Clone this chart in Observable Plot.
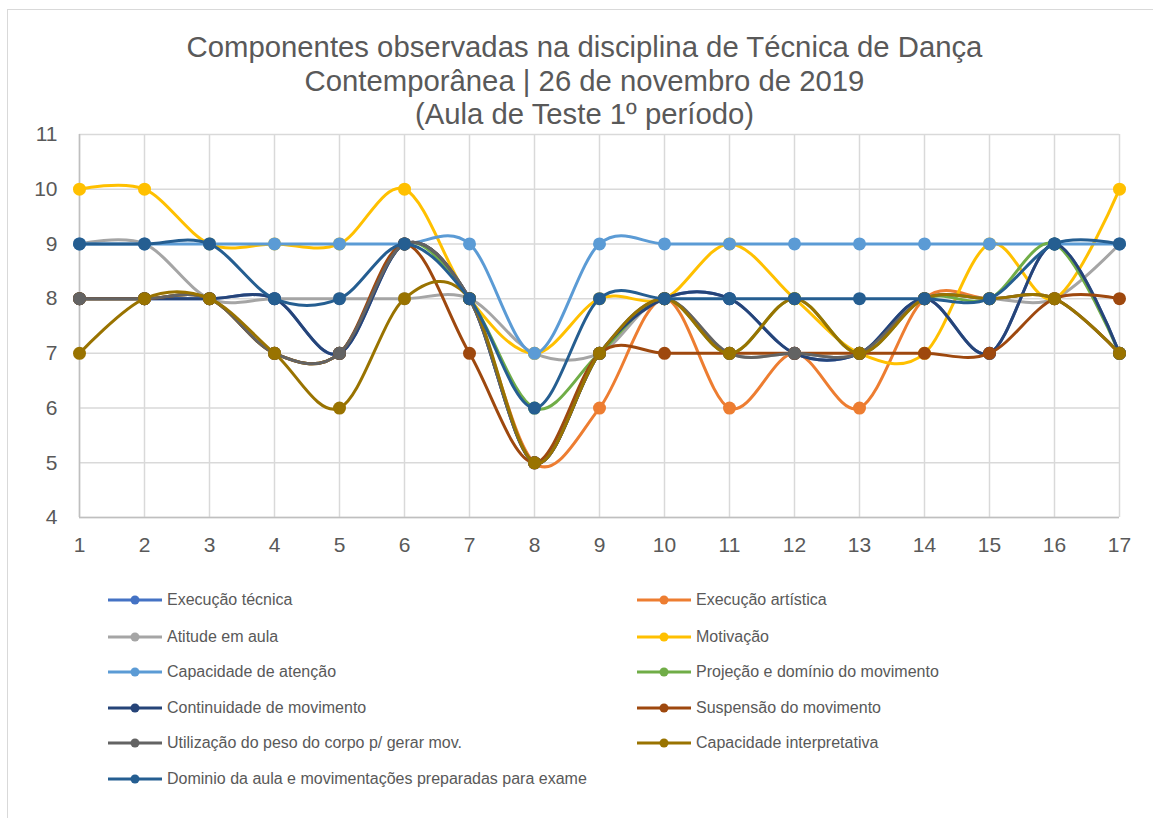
<!DOCTYPE html>
<html>
<head>
<meta charset="utf-8">
<script src="https://cdn.jsdelivr.net/npm/d3@7"></script>
<script src="https://cdn.jsdelivr.net/npm/@observablehq/plot@0.6"></script>
<style>
  html, body { margin: 0; padding: 0; background: #fff; overflow: hidden; }
  body { width: 1153px; height: 818px; position: relative; font-family: "Liberation Sans", Arial, sans-serif; color: #595959; }
  #frame { position: absolute; left: 7px; top: 9px; width: 1300px; height: 1000px; border: 1px solid #d9d9d9; box-sizing: border-box; }
  #title { position: absolute; left: 8px; width: 1153px; top: 30px; text-align: center; font-size: 29.3px; line-height: 33.5px; color: #595959; }
  #chart { position: absolute; left: 0; top: 125px; }
  .leg { position: absolute; height: 20px; display: flex; align-items: center; font-size: 16px; color: #595959; white-space: nowrap; }
  .leg svg { margin-right: 5px; }
</style>
</head>
<body>
<div id="frame"></div>
<div id="title">Componentes observadas na disciplina de Técnica de Dança<br>Contemporânea | 26 de novembro de 2019<br>(Aula de Teste 1º período)</div>
<div id="chart"></div>
<div id="legend"></div>
<script>
// Sessions (x categories)
const sessions = [1, 2, 3, 4, 5, 6, 7, 8, 9, 10, 11, 12, 13, 14, 15, 16, 17];
const yTicks = [4, 5, 6, 7, 8, 9, 10, 11];

// Series values
const execucaoTecnica      = [8, 8, 8, 8, 7, 9, 8, 5, 7, 8, 8, 7, 7, 8, 7, 9, 7];
const execucaoArtistica    = [8, 8, 8, 7, 7, 9, 8, 5, 6, 8, 6, 7, 6, 8, 8, 8, 7];
const atitudeEmAula        = [9, 9, 8, 8, 8, 8, 8, 7, 7, 8, 7, 7, 7, 8, 8, 8, 9];
const motivacao            = [10, 10, 9, 9, 9, 10, 8, 7, 8, 8, 9, 8, 7, 7, 9, 8, 10];
const capacidadeAtencao    = [9, 9, 9, 9, 9, 9, 9, 7, 9, 9, 9, 9, 9, 9, 9, 9, 9];
const projecaoDominio      = [8, 8, 8, 7, 7, 9, 8, 6, 7, 8, 7, 8, 7, 8, 8, 9, 7];
const continuidade         = [8, 8, 8, 8, 7, 9, 8, 5, 7, 8, 8, 7, 7, 8, 7, 9, 7];
const suspensao            = [8, 8, 8, 7, 7, 9, 7, 5, 7, 7, 7, 7, 7, 7, 7, 8, 8];
const utilizacaoPeso       = [8, 8, 8, 7, 7, 9, 8, 5, 7, 8, 7, 7, 7, 8, 8, 8, 7];
const capacidadeInterp     = [7, 8, 8, 7, 6, 8, 8, 5, 7, 8, 7, 8, 7, 8, 8, 8, 7];
const dominioAula          = [9, 9, 9, 8, 8, 9, 8, 6, 8, 8, 8, 8, 8, 8, 8, 9, 9];

const seriesNames = [
  "Execução técnica", "Execução artística", "Atitude em aula", "Motivação",
  "Capacidade de atenção", "Projeção e domínio do movimento", "Continuidade de movimento",
  "Suspensão do movimento", "Utilização do peso do corpo p/ gerar mov.",
  "Capacidade interpretativa", "Dominio da aula e movimentações preparadas para exame"
];
const seriesValues = [
  execucaoTecnica, execucaoArtistica, atitudeEmAula, motivacao, capacidadeAtencao,
  projecaoDominio, continuidade, suspensao, utilizacaoPeso, capacidadeInterp, dominioAula
];
const seriesColors = [
  "#4472C4", "#ED7D31", "#A5A5A5", "#FFC000", "#5B9BD5",
  "#70AD47", "#264478", "#9E480E", "#636363", "#997300", "#255E91"
];

const seriesMarks = seriesNames.flatMap((name, k) => {
  const data = seriesValues[k].map((v, i) => ({x: sessions[i], y: v, s: name}));
  return [
    Plot.line(data, {x: "x", y: "y", stroke: seriesColors[k], strokeWidth: 3, curve: "cardinal"}),
    Plot.dot(data, {x: "x", y: "y", fill: seriesColors[k], r: 6.5, stroke: "none"})
  ];
});

const chart = Plot.plot({
  width: 1153,
  height: 445,
  marginLeft: 79,
  marginRight: 34,
  marginTop: 9,
  marginBottom: 53,
  style: {fontFamily: "'Liberation Sans', Arial, sans-serif", fontSize: "21px", color: "#595959", background: "transparent", overflow: "visible"},
  x: {domain: [1, 17], type: "linear"},
  y: {domain: [4, 11], type: "linear"},
  marks: [
    Plot.gridX(sessions, {stroke: "#d9d9d9", strokeOpacity: 1, strokeWidth: 1.5}),
    Plot.gridY(yTicks, {stroke: "#d9d9d9", strokeOpacity: 1, strokeWidth: 1.5}),
    Plot.ruleX([1], {stroke: "#bfbfbf", strokeWidth: 1.5}),
    Plot.ruleY([4], {stroke: "#bfbfbf", strokeWidth: 1.5}),
    ...seriesMarks,
    Plot.axisX(sessions, {tickSize: 0, tickPadding: 20, tickFormat: d => String(d), label: null, fill: "#595959"}),
    Plot.axisY(yTicks, {tickSize: 0, tickPadding: 22, tickFormat: d => String(d), label: null, fill: "#595959"})
  ]
});
document.getElementById("chart").appendChild(chart);

// Legend (two columns, Excel-style line+marker swatches)
const legend = document.getElementById("legend");
const rowY = [600, 637, 672, 708, 743, 779];
seriesNames.forEach((name, k) => {
  const col = k % 2, row = Math.floor(k / 2);
  const left = col === 0 ? 108 : 637;
  const div = document.createElement("div");
  div.className = "leg";
  div.style.left = left + "px";
  div.style.top = (rowY[row] - 10) + "px";
  div.innerHTML = `<svg width="54" height="12"><line x1="0" x2="54" y1="6" y2="6" stroke="${seriesColors[k]}" stroke-width="3"/><circle cx="27" cy="6" r="4.5" fill="${seriesColors[k]}"/></svg><span>${name}</span>`;
  legend.appendChild(div);
});
</script>
</body>
</html>
